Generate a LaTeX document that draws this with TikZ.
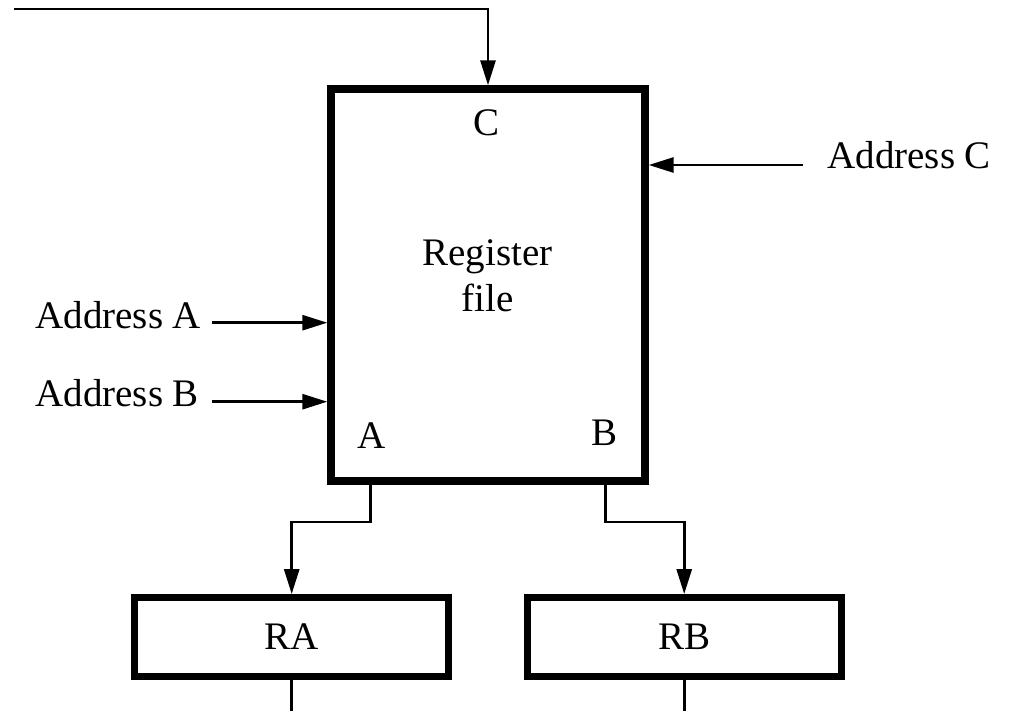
\documentclass[tikz,border=0pt]{standalone}
\usepackage{fontspec}
\setmainfont{Liberation Serif}
\usetikzlibrary{arrows.meta}

\begin{document}
\begin{tikzpicture}[>={Triangle[length=5mm,width=3mm]},
    regbox/.style={draw,line width=4.2pt,inner sep=0pt},
    wire/.style={line width=1.6pt},
    lbl/.style={inner sep=0pt,anchor=base},
    font=\fontsize{22.2}{26.2}\selectfont]
  \useasboundingbox (0,0) rectangle (20.18,14.22);
  \node[regbox,minimum width=6.28cm,minimum height=7.84cm] (rf) at (9.76,8.52) {};
  \node[align=center,inner sep=0pt] (rfname) at (9.75,8.71) {Register\\file};
  \node[lbl] (portc) at (9.73,11.50) {C};
  \node[lbl] (porta) at (7.43,5.25) {A};
  \node[lbl] (portb) at (12.10,5.32) {B};
  \node[regbox,minimum width=6.28cm,minimum height=1.57cm] (ra) at (5.834,1.48) {RA};
  \node[regbox,minimum width=6.28cm,minimum height=1.57cm] (rb) at (13.684,1.48) {RB};
  \node[lbl,anchor=base west] (adrc) at (16.54,10.86) {Address C};
  \node[lbl,anchor=base west] (adra) at (0.70,7.654) {Address A};
  \node[lbl,anchor=base west] (adrb) at (0.70,6.086) {Address B};
  \coordinate (cin) at (0.28,14.04);
  \coordinate (inc) at (16.06,10.92);
  \coordinate (ina) at (4.24,7.766);
  \coordinate (inb) at (4.24,6.186);
  \coordinate (outa) at (7.414,3.78);
  \coordinate (outb) at (12.114,3.78);
  \coordinate (bot) at (0,0);
  \draw[wire,->] (cin) -- (cin -| rf.north) -- (rf.north);
  \draw[wire,->] (inc) -- (inc -| rf.east);
  \draw[wire,->] (ina) -- (ina -| rf.west);
  \draw[wire,->] (inb) -- (inb -| rf.west);
  \draw[wire,->] (outa |- rf.south) -- (outa) -- (outa -| ra.north) -- (ra.north);
  \draw[wire,->] (outb |- rf.south) -- (outb) -- (outb -| rb.north) -- (rb.north);
  \draw[wire] (ra.south) -- (ra.south |- bot);
  \draw[wire] (rb.south) -- (rb.south |- bot);
\end{tikzpicture}
\end{document}
